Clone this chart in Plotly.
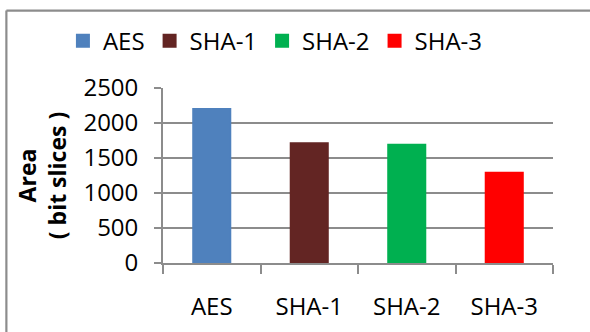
import plotly.graph_objects as go

categories = ["AES", "SHA-1", "SHA-2", "SHA-3"]
area_values = [2200, 1710, 1690, 1290]
bar_colors = ["#4F81BD", "#632523", "#00B050", "#FF0000"]
y_tick_vals = [0, 500, 1000, 1500, 2000, 2500]

W, H = 590, 332
ML, MR, MT, MB = 163, 37.3, 88.3, 69
GRAY = "#8C8C8C"
FONT = "Open Sans"

fig = go.Figure()
for cat, val, col in zip(categories, area_values, bar_colors):
    fig.add_trace(go.Bar(
        x=[cat], y=[val], name=cat,
        marker=dict(color=col, line=dict(color=col, width=2)),
        width=0.38,
    ))

pw = W - ML - MR
ph = H - MT - MB
def px_x(p):
    return (p - ML) / pw
def px_y(p):
    return (H - MB - p) / ph

fig.add_shape(type="line", xref="paper", yref="paper",
              x0=px_x(6.5), x1=px_x(W + 5), y0=px_y(11), y1=px_y(11),
              line=dict(color=GRAY, width=2.2))
fig.add_shape(type="line", xref="paper", yref="paper",
              x0=px_x(6.5), x1=px_x(6.5), y0=px_y(11), y1=px_y(H + 5),
              line=dict(color=GRAY, width=2.2))

fig.update_layout(
    width=W, height=H,
    margin=dict(l=ML, r=MR, t=MT, b=MB, pad=0),
    paper_bgcolor="white", plot_bgcolor="white",
    font=dict(family=FONT, size=24, color="#000000"),
    barmode="overlay",
    showlegend=True,
    legend=dict(orientation="h", xref="paper", yref="paper",
                x=px_x(63), y=px_y(19), xanchor="left", yanchor="top",
                font=dict(family=FONT, size=24, color="#000000"),
                bgcolor="rgba(0,0,0,0)", traceorder="normal", itemwidth=30),
    xaxis=dict(
        type="category", categoryorder="array", categoryarray=categories,
        range=[-0.5, 3.5],
        showline=True, linecolor=GRAY, linewidth=1.8,
        ticks="outside", tickson="boundaries", ticklen=9, tickcolor=GRAY, tickwidth=1.8,
        showgrid=False, zeroline=False,
        tickfont=dict(family=FONT, size=24, color="#000000"),
        ticklabelstandoff=21,
        automargin=False,
    ),
    yaxis=dict(
        range=[0, 2500], tickvals=y_tick_vals,
        showline=True, linecolor=GRAY, linewidth=1.8,
        ticks="outside", ticklen=7, tickcolor=GRAY, tickwidth=1.8,
        showgrid=True, gridcolor=GRAY, gridwidth=1.8,
        zeroline=False,
        tickfont=dict(family=FONT, size=24, color="#000000"),
        ticklabelstandoff=11,
        title=dict(text="<b>Area</b><br><b>( bit slices )</b>",
                   font=dict(family=FONT, size=23, color="#000000"),
                   standoff=10),
        automargin=False,
    ),
)

fig.write_html("out.html")
